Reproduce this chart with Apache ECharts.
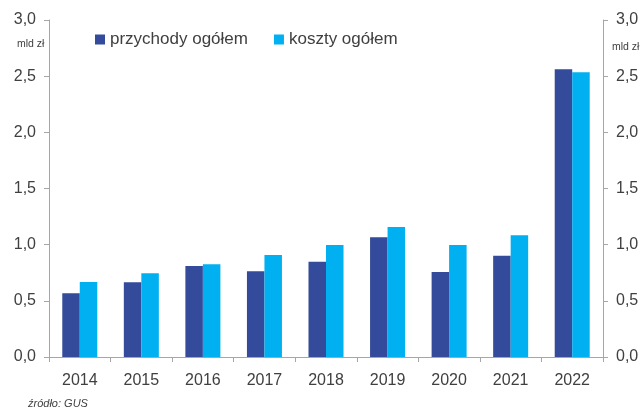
<!DOCTYPE html>
<html>
<head>
<meta charset="utf-8">
<script src="https://cdn.jsdelivr.net/npm/echarts@6/dist/echarts.min.js"></script>
<style>
html,body{margin:0;padding:0;background:#fff;}
#c{width:643px;height:412px;}
</style>
</head>
<body>
<div id="c"></div>
<script>
const categories = ['2014','2015','2016','2017','2018','2019','2020','2021','2022'];
const przychody = [0.567, 0.665, 0.81, 0.763, 0.849, 1.066, 0.757, 0.902, 2.562];
const koszty = [0.668, 0.745, 0.825, 0.908, 0.997, 1.158, 0.997, 1.083, 2.535];
const seriesNames = ['przychody ogółem', 'koszty ogółem'];
const unitLabel = 'mld zł';
const sourceLabel = 'źródło: GUS';

const font = 'Arial, "Liberation Sans", sans-serif';
const axisColor = '#a6a6a6';
const textColor = '#404040';

const chart = echarts.init(document.getElementById('c'), null, {renderer: 'canvas'});
const yAxisCommon = {
  type: 'value', min: 0, max: 3, interval: 0.5,
  axisLine: {show: true, lineStyle: {color: axisColor, width: 1}},
  axisTick: {show: true, length: 5, lineStyle: {color: axisColor}},
  splitLine: {show: false},
  axisLabel: {
    color: textColor, fontFamily: font, fontSize: 16, margin: 13,
    formatter: v => v.toFixed(1).replace('.', ',')
  }
};
chart.setOption({
  animation: false,
  textStyle: {fontFamily: font},
  grid: {left: 49, right: 40, top: 20, bottom: 55, containLabel: false},
  legend: {
    left: 95, top: 31, padding: 0, itemWidth: 10, itemHeight: 10, itemGap: 26,
    icon: 'rect',
    textStyle: {color: textColor, fontSize: 17, fontFamily: font},
    data: seriesNames
  },
  xAxis: {
    type: 'category', data: categories,
    axisLine: {lineStyle: {color: axisColor}},
    axisTick: {show: true, length: 5, alignWithLabel: false, lineStyle: {color: axisColor}},
    axisLabel: {color: textColor, fontSize: 16, fontFamily: font, margin: 16}
  },
  yAxis: [
    Object.assign({position: 'left'}, yAxisCommon),
    Object.assign({position: 'right'}, yAxisCommon)
  ],
  graphic: [
    {type: 'text', left: 17, top: 39, style: {text: unitLabel, fontSize: 10.5, fill: textColor, fontFamily: font}},
    {type: 'text', left: 612, top: 42, style: {text: unitLabel, fontSize: 10.5, fill: textColor, fontFamily: font}},
    {type: 'text', left: 28, top: 398, style: {text: sourceLabel, fontSize: 11, fontStyle: 'italic', fill: textColor, fontFamily: font}}
  ],
  series: [
    {name: seriesNames[0], type: 'bar', data: przychody, barWidth: 17.5, barGap: '0%',
     itemStyle: {color: '#344a9a'}, yAxisIndex: 0},
    {name: seriesNames[1], type: 'bar', data: koszty, barWidth: 17.5, barGap: '0%',
     itemStyle: {color: '#00b0f0'}, yAxisIndex: 0}
  ]
});
</script>
</body>
</html>
